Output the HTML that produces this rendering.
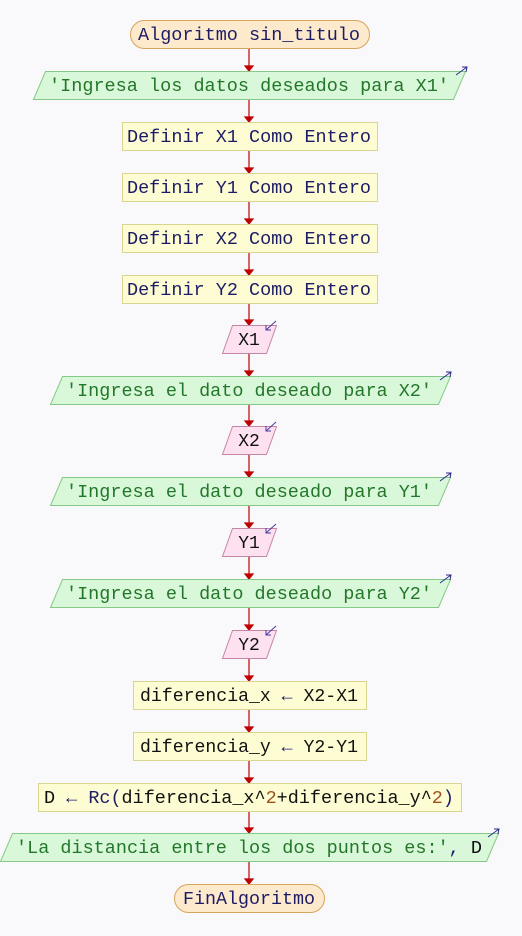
<!DOCTYPE html>
<html><head><meta charset="utf-8"><style>
html,body{margin:0;padding:0;background:#f9f9fb;}
svg{display:block}
text{font-family:"Liberation Mono",monospace;font-size:18px;}
.k{fill:#1c1c66}.s{fill:#23772a}.v{fill:#111}.n{fill:#a0521e}
</style></head><body>
<svg width="522" height="936" viewBox="0 0 522 936" xmlns="http://www.w3.org/2000/svg">
<defs><marker id="ah" markerWidth="8" markerHeight="6" refX="4" refY="6" orient="auto" markerUnits="userSpaceOnUse"><path d="M0,0 L8,0 L4,6 Z" fill="#c00000"/></marker></defs>
<g stroke="#c00000" stroke-width="1.2" fill="none">
<line x1="249" y1="48" x2="249" y2="71"/><path d="M245,66 L253,66 L249,71Z" fill="#c00000"/>
<line x1="249" y1="99" x2="249" y2="122"/><path d="M245,117 L253,117 L249,122Z" fill="#c00000"/>
<line x1="249" y1="150" x2="249" y2="173"/><path d="M245,168 L253,168 L249,173Z" fill="#c00000"/>
<line x1="249" y1="201" x2="249" y2="224"/><path d="M245,219 L253,219 L249,224Z" fill="#c00000"/>
<line x1="249" y1="252" x2="249" y2="275"/><path d="M245,270 L253,270 L249,275Z" fill="#c00000"/>
<line x1="249" y1="303" x2="249" y2="325"/><path d="M245,320 L253,320 L249,325Z" fill="#c00000"/>
<line x1="249" y1="353" x2="249" y2="376"/><path d="M245,371 L253,371 L249,376Z" fill="#c00000"/>
<line x1="249" y1="404" x2="249" y2="426"/><path d="M245,421 L253,421 L249,426Z" fill="#c00000"/>
<line x1="249" y1="454" x2="249" y2="477"/><path d="M245,472 L253,472 L249,477Z" fill="#c00000"/>
<line x1="249" y1="505" x2="249" y2="528"/><path d="M245,523 L253,523 L249,528Z" fill="#c00000"/>
<line x1="249" y1="556" x2="249" y2="579"/><path d="M245,574 L253,574 L249,579Z" fill="#c00000"/>
<line x1="249" y1="607" x2="249" y2="630"/><path d="M245,625 L253,625 L249,630Z" fill="#c00000"/>
<line x1="249" y1="658" x2="249" y2="681"/><path d="M245,676 L253,676 L249,681Z" fill="#c00000"/>
<line x1="249" y1="709" x2="249" y2="732"/><path d="M245,727 L253,727 L249,732Z" fill="#c00000"/>
<line x1="249" y1="760" x2="249" y2="783"/><path d="M245,778 L253,778 L249,783Z" fill="#c00000"/>
<line x1="249" y1="811" x2="249" y2="833"/><path d="M245,828 L253,828 L249,833Z" fill="#c00000"/>
<line x1="249" y1="861" x2="249" y2="884"/><path d="M245,879 L253,879 L249,884Z" fill="#c00000"/>
</g>
<!-- start -->
<rect x="130.5" y="20.5" width="239" height="28" rx="14" fill="#fde9cc" stroke="#d7a55e"/>
<text x="249" y="40" text-anchor="middle" class="k" textLength="222" lengthAdjust="spacingAndGlyphs">Algoritmo sin_titulo</text>
<!-- output 1 -->
<path d="M45.5,71.5 L465.5,71.5 L453.5,99.5 L33.5,99.5Z" fill="#d9f7d9" stroke="#86c986"/>
<text x="249" y="91" text-anchor="middle" class="s" textLength="400" lengthAdjust="spacingAndGlyphs">'Ingresa los datos deseados para X1'</text>
<path d="M456,75 L467,67 M462,67 L467,67 L466,72" stroke="#2a2a88" fill="none"/>
<!-- defines -->
<g fill="#fdfcd2" stroke="#d7d58f">
<rect x="122.5" y="122.5" width="255" height="28"/>
<rect x="122.5" y="173.5" width="255" height="28"/>
<rect x="122.5" y="224.5" width="255" height="28"/>
<rect x="122.5" y="275.5" width="255" height="28"/>
<rect x="133.5" y="681.5" width="233" height="28"/>
<rect x="133.5" y="732.5" width="233" height="28"/>
<rect x="38.5" y="783.5" width="423" height="28"/>
</g>
<text x="249" y="142" text-anchor="middle" class="k" textLength="244" lengthAdjust="spacingAndGlyphs">Definir X1 Como Entero</text>
<text x="249" y="193" text-anchor="middle" class="k" textLength="244" lengthAdjust="spacingAndGlyphs">Definir Y1 Como Entero</text>
<text x="249" y="244" text-anchor="middle" class="k" textLength="244" lengthAdjust="spacingAndGlyphs">Definir X2 Como Entero</text>
<text x="249" y="295" text-anchor="middle" class="k" textLength="244" lengthAdjust="spacingAndGlyphs">Definir Y2 Como Entero</text>
<!-- inputs -->
<g fill="#fde1f0" stroke="#c586a6">
<path d="M232.5,325.5 L276.5,325.5 L266.5,353.5 L222.5,353.5Z"/>
<path d="M232.5,426.5 L276.5,426.5 L266.5,454.5 L222.5,454.5Z"/>
<path d="M232.5,528.5 L276.5,528.5 L266.5,556.5 L222.5,556.5Z"/>
<path d="M232.5,630.5 L276.5,630.5 L266.5,658.5 L222.5,658.5Z"/>
</g>
<g stroke="#4a3aa0" fill="none">
<path d="M276,321 L266,330 M266,325 L266,330 L271,330"/>
<path d="M276,422 L266,431 M266,426 L266,431 L271,431"/>
<path d="M276,524 L266,533 M266,528 L266,533 L271,533"/>
<path d="M276,626 L266,635 M266,630 L266,635 L271,635"/>
</g>
<text x="249" y="345" text-anchor="middle" class="v">X1</text>
<text x="249" y="446" text-anchor="middle" class="v">X2</text>
<text x="249" y="548" text-anchor="middle" class="v">Y1</text>
<text x="249" y="650" text-anchor="middle" class="v">Y2</text>
<!-- outputs -->
<g fill="#d9f7d9" stroke="#86c986">
<path d="M62.5,376.5 L450.5,376.5 L438.5,404.5 L50.5,404.5Z"/>
<path d="M62.5,477.5 L450.5,477.5 L438.5,505.5 L50.5,505.5Z"/>
<path d="M62.5,579.5 L450.5,579.5 L438.5,607.5 L50.5,607.5Z"/>
<path d="M12.5,833.5 L498.5,833.5 L486.5,861.5 L0.5,861.5Z"/>
</g>
<g stroke="#2a2a88" fill="none">
<path d="M440,380 L451,372 M446,372 L451,372 L450,377"/>
<path d="M440,481 L451,473 M446,473 L451,473 L450,478"/>
<path d="M440,583 L451,575 M446,575 L451,575 L450,580"/>
<path d="M488,837 L499,829 M494,829 L499,829 L498,834"/>
</g>
<text x="249" y="396" text-anchor="middle" class="s" textLength="366" lengthAdjust="spacingAndGlyphs">'Ingresa el dato deseado para X2'</text>
<text x="249" y="497" text-anchor="middle" class="s" textLength="366" lengthAdjust="spacingAndGlyphs">'Ingresa el dato deseado para Y1'</text>
<text x="249" y="599" text-anchor="middle" class="s" textLength="366" lengthAdjust="spacingAndGlyphs">'Ingresa el dato deseado para Y2'</text>
<text x="249" y="701" text-anchor="middle" textLength="218" lengthAdjust="spacingAndGlyphs"><tspan class="v">diferencia_x </tspan><tspan class="k">←</tspan><tspan class="v"> X2-X1</tspan></text>
<text x="249" y="752" text-anchor="middle" textLength="218" lengthAdjust="spacingAndGlyphs"><tspan class="v">diferencia_y </tspan><tspan class="k">←</tspan><tspan class="v"> Y2-Y1</tspan></text>
<text x="249" y="803" text-anchor="middle" textLength="410" lengthAdjust="spacingAndGlyphs"><tspan class="v">D </tspan><tspan class="k">← Rc(</tspan><tspan class="v">diferencia_x^</tspan><tspan class="n">2</tspan><tspan class="v">+diferencia_y^</tspan><tspan class="n">2</tspan><tspan class="k">)</tspan></text>
<text x="249" y="853" text-anchor="middle" textLength="466" lengthAdjust="spacingAndGlyphs"><tspan class="s">'La distancia entre los dos puntos es:'</tspan><tspan class="k">, </tspan><tspan class="v">D</tspan></text>
<!-- end -->
<rect x="174.5" y="884.5" width="150" height="28" rx="14" fill="#fde9cc" stroke="#d7a55e"/>
<text x="249" y="904" text-anchor="middle" class="k" textLength="132" lengthAdjust="spacingAndGlyphs">FinAlgoritmo</text>
</svg>
</body></html>
